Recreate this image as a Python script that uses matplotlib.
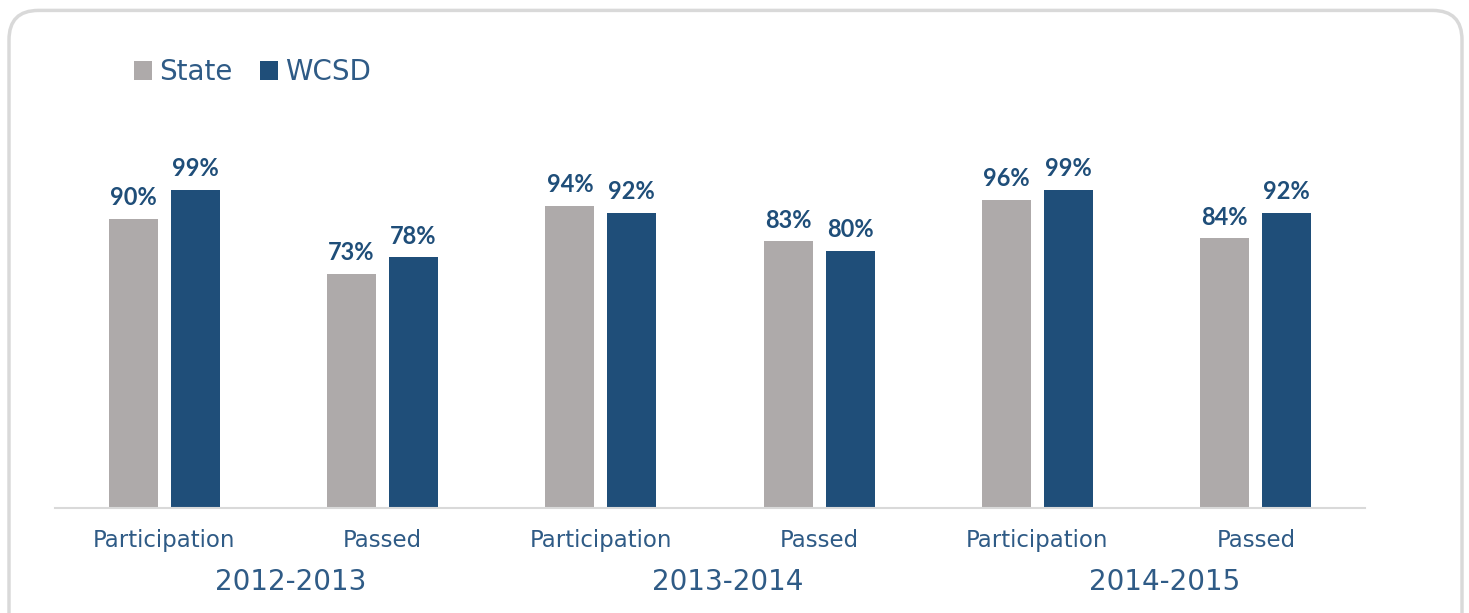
import numpy as np
import matplotlib.pyplot as plt
from matplotlib.patches import FancyBboxPatch

# data
years = ['2012-2013', '2013-2014', '2014-2015']
measures = ['Participation', 'Passed']
state = [90, 73, 94, 83, 96, 84]
wcsd = [99, 78, 92, 80, 99, 92]

GRAY = '#AEAAAA'
BLUE = '#1F4E79'
TXT = '#2F5B86'

fig = plt.figure(figsize=(14.69, 6.13), dpi=100)
ax = fig.add_axes([55/1469, 105/613, 1310/1469, 378/613])

x = np.arange(len(state))
w = 0.225
off = 0.142
b1 = ax.bar(x - off, state, w, color=GRAY, label='State')
b2 = ax.bar(x + off, wcsd, w, color=BLUE, label='WCSD')

for bars, vals in ((b1, state), (b2, wcsd)):
    for r, v in zip(bars, vals):
        ax.annotate(f'{v}%', (r.get_x() + r.get_width()/2, r.get_height()),
                    xytext=(0, 7), textcoords='offset points', ha='center', va='bottom',
                    fontsize=17, fontweight='bold', color=BLUE, family='Lato')

ax.set_xlim(-0.5, len(state) - 0.5)
ax.set_ylim(0, 117.7)
ax.set_yticks([])
for s in ['top', 'right', 'left']:
    ax.spines[s].set_visible(False)
ax.spines['bottom'].set_color('#D9D9D9')
ax.spines['bottom'].set_linewidth(1.5)

ax.set_xticks(x)
ax.set_xticklabels(measures * len(years), fontsize=16.5, color=TXT)
ax.tick_params(axis='x', length=0, pad=15)

for i, yr in enumerate(years):
    ax.text(2*i + 0.5 + 0.08, -0.197, yr, transform=ax.get_xaxis_transform(),
            ha='center', va='center', fontsize=20, color=TXT)

leg = fig.legend(handles=[b1, b2], loc='upper left', bbox_to_anchor=(123/1469, 1 - 47/613),
                 ncol=2, frameon=False, fontsize=20, handlelength=0.65, handleheight=0.65,
                 handletextpad=0.25, columnspacing=1.0, borderaxespad=0)
for t in leg.get_texts():
    t.set_color(TXT)

# rounded outer border
border = FancyBboxPatch((9/1469, -0.05), 1453/1469, 1.033, transform=fig.transFigure,
                        boxstyle='round,pad=0,rounding_size=0.02', fill=False,
                        edgecolor='#D9D9D9', linewidth=2.5, mutation_aspect=1469/613)
fig.patches.append(border)

fig.savefig('out.png', dpi=100)
